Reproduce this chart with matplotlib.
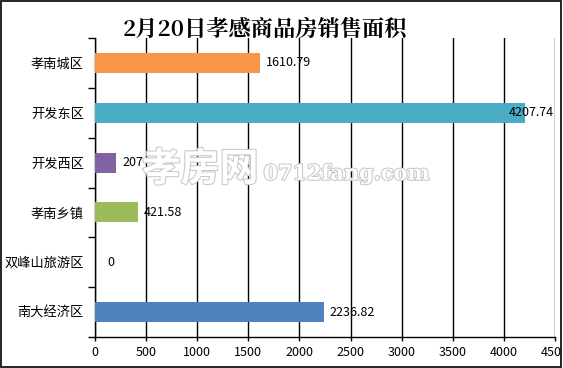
import numpy as np
import matplotlib.pyplot as plt
import matplotlib.patheffects as pe
from matplotlib.patches import Rectangle
from matplotlib.transforms import ScaledTranslation

plt.rcParams['font.family'] = ['Noto Sans CJK SC', 'DejaVu Sans']

districts = ['孝南城区', '开发东区', '开发西区', '孝南乡镇', '双峰山旅游区', '南大经济区']
areas = [1610.79, 4207.74, 207, 421.58, 0, 2236.82]
area_labels = ['1610.79', '4207.74', '207', '421.58', '0', '2236.82']
colors = ['#F79646', '#4BACC6', '#8064A2', '#9BBB59', '#C0504D', '#4F81BD']
xticks = [0, 500, 1000, 1500, 2000, 2500, 3000, 3500, 4000, 4500]
xtick_labels = ['0', '500', '1000', '1500', '2000', '2500', '3000', '3500', '4000', '450']

fig = plt.figure(figsize=(5.63, 3.68), dpi=100)
ax = fig.add_axes([95 / 563, 31 / 368, 460 / 563, 299 / 368])

y = np.arange(len(districts))
ax.barh(y, areas, height=0.4, color=colors, zorder=3)
ax.set_ylim(len(districts) - 0.5, -0.5)
ax.set_xlim(0, 4500)

# value labels, pulled back inside when they would run off the right edge
for yi, v, lab in zip(y, areas, area_labels):
    if v + 60 + 520 > 4500:
        ax.text(4490, yi, lab, ha='right', va='center', fontsize=9, zorder=4)
    else:
        ax.text(v + 60 if v > 0 else 120, yi, lab, ha='left', va='center', fontsize=9, zorder=4)

ax.set_yticks(y)
ax.set_yticklabels(districts, fontsize=9.5)
ax.set_yticks(np.arange(len(districts) + 1) - 0.5, minor=True)
ax.tick_params(axis='y', which='major', length=0, pad=8)
ax.tick_params(axis='y', which='minor', length=5, width=1, color='black')
ax.set_xticks(xticks)
ax.set_xticklabels(xtick_labels, fontsize=9)
ax.tick_params(axis='x', length=3, width=1)
last = ax.get_xticklabels()[-1]
last.set_transform(last.get_transform() + ScaledTranslation(-4 / 100, 0, fig.dpi_scale_trans))
ax.grid(axis='x', color='black', linewidth=1, zorder=0)
for s in ['top', 'right']:
    ax.spines[s].set_visible(False)
for s in ['left', 'bottom']:
    ax.spines[s].set_linewidth(1)

fig.text(0.471, 0.921, '2月20日孝感商品房销售面积', ha='center', va='center',
         fontsize=16, fontweight='bold', family=['Noto Serif CJK SC', 'Noto Sans CJK SC', 'DejaVu Serif'])

# watermark
wm = fig.text(0.252, 0.54, '孝房网', fontsize=28, color='white', ha='left', va='center',
              fontweight='bold', zorder=10)
wm.set_path_effects([pe.withStroke(linewidth=1.5, foreground='#c8c8c8')])
wm2 = fig.text(0.468, 0.528, '0712fang.com', fontsize=15, color='white', ha='left', va='center',
               family='DejaVu Serif', fontweight='bold', zorder=10)
wm2.set_path_effects([pe.withStroke(linewidth=1.5, foreground='#c8c8c8')])

fig.patches.append(Rectangle((0.002, 0.003), 0.994, 0.994, transform=fig.transFigure,
                             fill=False, edgecolor='black', linewidth=1.2))

fig.savefig('out.png', dpi=100)
